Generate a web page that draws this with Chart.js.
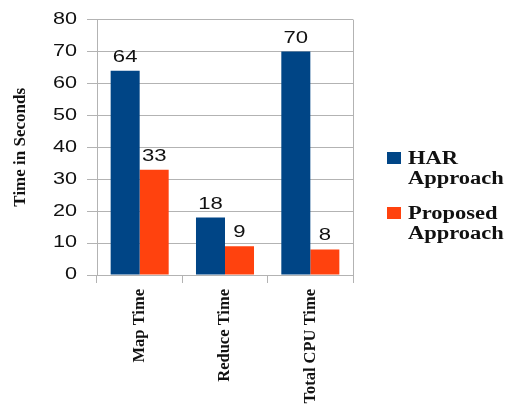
<!DOCTYPE html>
<html>
<head>
<meta charset="utf-8">
<script src="https://cdn.jsdelivr.net/npm/chart.js@4/dist/chart.umd.min.js"></script>
<style>
  html, body { margin: 0; padding: 0; background: #ffffff; }
  #wrap { width: 508px; height: 408px; }
</style>
</head>
<body>
<div id="wrap"><canvas id="myChart" width="508" height="408"></canvas></div>
<script>
const categories = ['Map Time', 'Reduce Time', 'Total CPU Time'];
const harValues = [64, 18, 70];
const proposedValues = [33, 9, 8];
const seriesNames = [['HAR', 'Approach'], ['Proposed', 'Approach']];
const yTitle = 'Time in Seconds';

const gridColor = '#b3b3b3';
const textColor = '#111111';
const stretch = 1.35; // the original picture has horizontally widened text

// value above every bar
const valueLabels = {
    id: 'valueLabels',
    afterDatasetsDraw(chart) {
        const ctx = chart.ctx;
        ctx.save();
        ctx.font = '17px "Liberation Sans", Arial, sans-serif';
        ctx.fillStyle = textColor;
        ctx.textAlign = 'center';
        ctx.textBaseline = 'alphabetic';
        chart.data.datasets.forEach((ds, i) => {
            chart.getDatasetMeta(i).data.forEach((bar, j) => {
                ctx.save();
                ctx.translate(bar.x, bar.y - 9);
                ctx.scale(1.3, 1);
                ctx.fillText(ds.data[j], 0, 0);
                ctx.restore();
            });
        });
        ctx.restore();
    }
};

// widen the y tick labels around their right edge
const wideTicks = {
    id: 'wideTicks',
    beforeDraw(chart) {
        const s = chart.scales.y;
        if (s._wide) return;
        s._wide = true;
        const orig = s.drawLabels;
        s.drawLabels = function (area) {
            const ctx = this.ctx;
            const rx = this.right - this.options.grid.tickLength - this.options.ticks.padding;
            ctx.save();
            ctx.translate(rx, 0);
            ctx.scale(stretch, 1);
            ctx.translate(-rx, 0);
            orig.call(this, area);
            ctx.restore();
        };
    }
};

// right edge of the plot frame + legend with two-line labels
const frameAndLegend = {
    id: 'frameAndLegend',
    afterDraw(chart) {
        const ctx = chart.ctx;
        const area = chart.chartArea;
        ctx.save();
        ctx.strokeStyle = gridColor;
        ctx.lineWidth = 1;
        ctx.beginPath();
        ctx.moveTo(Math.round(area.right) + 0.5, area.top);
        ctx.lineTo(Math.round(area.right) + 0.5, area.bottom);
        ctx.stroke();

        ctx.font = 'bold 18px "Liberation Serif", "Times New Roman", serif';
        ctx.textBaseline = 'alphabetic';
        ctx.textAlign = 'left';
        let y = 164;
        chart.data.datasets.forEach((ds) => {
            ctx.fillStyle = ds.backgroundColor;
            ctx.fillRect(387, y - 12, 14, 12);
            ctx.fillStyle = textColor;
            ds.label.forEach((line, k) => {
                ctx.save();
                ctx.translate(408, y + k * 20);
                ctx.scale(1.25, 1);
                ctx.fillText(line, 0, 0);
                ctx.restore();
            });
            y += 55;
        });
        ctx.restore();
    }
};

const data = {
    labels: categories,
    datasets: [{
        label: seriesNames[0],
        data: harValues,
        backgroundColor: '#004586',
        categoryPercentage: 0.68,
        barPercentage: 1.0
    }, {
        label: seriesNames[1],
        data: proposedValues,
        backgroundColor: '#ff420e',
        categoryPercentage: 0.68,
        barPercentage: 1.0
    }]
};

const config = {
    type: 'bar',
    data: data,
    options: {
        responsive: false,
        animation: false,
        layout: {
            padding: { left: 0, top: 18, right: 155, bottom: 0 }
        },
        plugins: {
            legend: { display: false },
            tooltip: { enabled: false }
        },
        scales: {
            y: {
                min: 0,
                max: 80,
                afterFit: s => { s.width = 97; },
                ticks: {
                    stepSize: 10,
                    color: textColor,
                    padding: 10,
                    font: { family: '"Liberation Sans", Arial, sans-serif', size: 16 }
                },
                grid: {
                    color: gridColor,
                    tickLength: 10
                },
                border: { color: gridColor },
                title: {
                    display: true,
                    text: yTitle,
                    color: textColor,
                    padding: { top: 10, bottom: 0 },
                    font: { family: '"Liberation Serif", "Times New Roman", serif', size: 17, weight: 'bold' }
                }
            },
            x: {
                afterFit: s => { s.height = 133; },
                ticks: {
                    color: textColor,
                    minRotation: 90,
                    maxRotation: 90,
                    padding: 6,
                    font: { family: '"Liberation Serif", "Times New Roman", serif', size: 16.5, weight: 'bold' }
                },
                grid: {
                    offset: true,
                    drawOnChartArea: false,
                    color: gridColor,
                    tickLength: 8
                },
                border: { color: gridColor }
            }
        }
    },
    plugins: [wideTicks, valueLabels, frameAndLegend]
};

const myChart = new Chart(document.getElementById('myChart'), config);
</script>
</body>
</html>
